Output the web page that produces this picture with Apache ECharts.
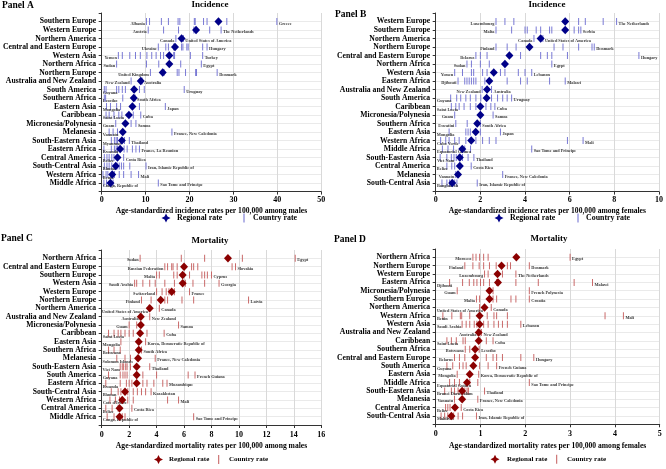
<!DOCTYPE html>
<html><head><meta charset="utf-8">
<script src="https://cdn.jsdelivr.net/npm/echarts@6/dist/echarts.min.js"></script>
<style>html,body{margin:0;padding:0;background:#fff}#c{width:666px;height:469px}</style>
</head><body><div id="c"></div>
<script>
// ---------------- Panel A : Incidence, males ----------------
const regionsA = ['Southern Europe','Western Europe','Northern America','Central and Eastern Europe','Western Asia','Northern Africa','Northern Europe','Australia and New Zealand','South America','Southern Africa','Eastern Asia','Caribbean','Micronesia/Polynesia','Melanesia','South-Eastern Asia','Eastern Africa','Central America','South-Central Asia','Western Africa','Middle Africa'];
const regionalA = [26.6, 21.5, 18.2, 16.7, 15.4, 15.4, 13.9, 8.9, 7.4, 7.3, 7.0, 6.2, 5.4, 4.8, 4.6, 4.2, 3.6, 3.2, 2.4, 2.0];
const countriesA = [
  [10.2, 10.9, 13.6, 15.2, 17.4, 17.8, 21.1, 21.3, 23.2, 24.0, 28.5, 39.9],
  [10.6, 14.1, 17.5, 21.0, 24.6, 27.2],
  [16.9, 18.6],
  [12.9, 14.6, 15.2, 16.4, 18.2, 18.5, 19.4, 19.7, 23.0, 24.0],
  [3.8, 4.7, 6.4, 7.7, 8.8, 10.3, 11.4, 12.4, 13.4, 14.1, 16.4, 16.6, 20.2, 23.0],
  [3.4, 10.2, 13.0, 18.0, 22.7],
  [11.1, 14.2, 17.2, 17.6, 19.1, 21.4, 21.6, 26.3],
  [6.7, 9.2],
  [0.6, 1.0, 3.4, 3.9, 4.7, 5.4, 7.2, 8.6, 9.7, 18.8],
  [0.6, 0.9, 4.8, 7.6],
  [1.1, 2.0, 3.4, 4.3, 8.6, 14.5],
  [1.0, 1.7, 2.8, 3.9, 4.6, 7.2, 8.9],
  [3.2, 6.7, 7.8],
  [1.7, 2.6, 3.6, 16.0],
  [2.2, 2.9, 3.3, 3.6, 5.2, 6.3],
  [0.5, 2.2, 2.9, 3.3, 3.6, 5.1, 5.8, 7.0, 7.8, 8.6],
  [0.6, 1.2, 1.7, 2.3, 2.8, 5.0],
  [0.6, 1.2, 1.7, 2.3, 3.5, 4.0, 4.5, 5.0, 6.4, 10.1],
  [0.3, 1.0, 1.4, 2.9, 4.0, 5.0, 6.7, 8.4],
  [0.5, 1.1, 2.6, 12.9]
];
const lowA = ['Albania','Austria','Canada','Ukraine','Yemen','Sudan','United Kingdom','New Zealand','Guyana','Lesotho','Mongolia','Saint Lucia','Guam','Vanuatu','Myanmar','Rwanda','Belize','Bhutan','Benin','Congo, Republic of'];
const highA = ['Greece','The Netherlands','United States of America','Hungary','Turkey','Egypt','Denmark','Australia','Uruguay','South Africa','Japan','Cuba','Samoa','France, New Caledonia','Thailand','France, La Reunion','Costa Rica','Iran, Islamic Republic of','Mali','Sao Tome and Principe'];

// ---------------- Panel B : Incidence, females ----------------
const regionsB = ['Western Europe','Southern Europe','Northern America','Northern Europe','Central and Eastern Europe','Northern Africa','Western Asia','Eastern Africa','Australia and New Zealand','South America','Caribbean','Micronesia/Polynesia','Southern Africa','Eastern Asia','Western Africa','Middle Africa','South-Eastern Asia','Central America','Melanesia','South-Central Asia'];
const regionalB = [5.8, 5.8, 4.7, 4.2, 3.3, 3.1, 2.6, 2.4, 2.3, 2.28, 2.0, 2.0, 1.86, 1.79, 1.59, 1.19, 1.08, 1.08, 1.0, 0.74];
const countriesB = [
  [2.7, 3.1, 3.5, 6.4, 6.7, 7.5, 8.1],
  [2.7, 3.4, 4.0, 4.1, 4.5, 4.7, 5.1, 5.2, 6.2, 6.4, 6.5],
  [4.4, 4.8],
  [2.7, 3.2, 3.6, 5.3, 5.7, 6.4, 7.0, 7.1],
  [1.8, 2.0, 2.3, 3.8, 4.7, 5.0, 5.2, 5.9, 9.1],
  [1.4, 1.6, 2.0, 2.4, 5.2],
  [0.85, 1.2, 1.6, 1.7, 2.1, 2.3, 2.9, 3.1, 3.7, 4.0, 4.3],
  [1.0, 1.3, 1.4, 1.5, 1.6, 1.7, 1.8, 2.2, 3.2, 3.8, 4.1, 5.1, 5.8],
  [2.08, 2.5],
  [0.67, 0.94, 1.12, 1.35, 1.55, 1.8, 2.02, 2.5, 2.77, 3.0, 3.2, 3.4],
  [0.7, 0.9, 1.05, 1.27, 1.55, 1.8, 2.25, 2.47, 2.65],
  [0.85, 2.57],
  [0.9, 1.41, 2.0],
  [0.6, 1.35, 1.45, 1.55, 2.0, 2.9],
  [0.22, 0.45, 0.6, 0.85, 1.05, 1.35, 1.8, 2.1, 2.4, 2.7, 5.9, 6.6],
  [0.3, 0.55, 0.8, 1.3, 1.56, 4.3],
  [0.2, 0.5, 0.7, 0.82, 0.92, 1.05, 1.2, 1.45, 1.71],
  [0.5, 0.72, 0.85, 1.59],
  [0.9, 3.0],
  [0.28, 0.5, 0.62, 0.85, 0.95, 1.86]
];
const lowB = ['Luxembourg','Malta','Canada','Finland','Belarus','Sudan','Yemen','Djibouti','New Zealand','Guyana','Saint Lucia','Guam','Eswatini','Mongolia','Cabo Verde','Equatorial Guinea','Viet Nam','Belize','Vanuatu','Bangladesh'];
const highB = ['The Netherlands','Serbia','United States of America','Denmark','Hungary','Egypt','Lebanon','Malawi','Australia','Uruguay','Cuba','Samoa','South Africa','Japan','Mali','Sao Tome and Principe','Thailand','Costa Rica','France, New Caledonia','Iran, Islamic Republic of'];

// ---------------- Panel C : Mortality, males ----------------
const regionsC = ['Northern Africa','Central and Eastern Europe','Southern Europe','Western Asia','Western Europe','Northern Europe','Northern America','Australia and New Zealand','Micronesia/Polynesia','Caribbean','Eastern Asia','Southern Africa','Melanesia','South-Eastern Asia','South America','Eastern Africa','South-Central Asia','Western Africa','Central America','Middle Africa'];
const regionalC = [9.2, 6.0, 5.9, 5.9, 5.1, 4.3, 3.5, 2.85, 2.85, 2.8, 2.7, 2.7, 2.65, 2.55, 2.55, 2.55, 1.7, 1.5, 1.3, 1.3];
const countriesC = [
  [2.8, 5.8, 7.5, 10.25, 14.1],
  [4.6, 4.8, 5.1, 5.2, 5.5, 6.55, 6.7, 7.0, 9.5, 9.75],
  [4.0, 4.2, 5.25, 5.5, 6.4, 7.3, 7.5, 7.7, 8.0],
  [2.4, 2.55, 3.0, 3.5, 3.9, 4.6, 5.3, 6.1, 6.65, 7.5, 8.55],
  [4.0, 4.4, 4.7, 4.9, 5.3, 6.4],
  [2.9, 3.6, 4.6, 4.8, 5.85, 6.7, 10.7],
  [3.45, 4.2],
  [2.8, 3.5],
  [2.0, 2.55, 5.6],
  [0.5, 0.9, 1.2, 1.4, 1.7, 2.0, 2.3, 3.3, 4.55],
  [1.4, 3.2],
  [0.5, 0.9, 1.35, 2.9],
  [1.1, 1.7, 2.1, 3.9],
  [1.35, 1.5, 1.6, 1.75, 1.85, 2.1, 3.5],
  [0.5, 1.35, 1.55, 1.7, 1.85, 3.0, 4.0, 6.3, 6.8],
  [0.3, 1.35, 1.8, 2.0, 2.2, 3.0, 3.3, 3.8, 4.45, 4.76],
  [0.7, 1.2, 1.4, 1.9, 2.3, 2.6, 2.9, 3.2, 3.6],
  [0.6, 1.0, 1.3, 1.9, 2.3, 4.8, 5.6],
  [0.3, 0.76, 1.2, 2.2],
  [0.4, 0.9, 1.5, 1.7, 6.7]
];
const lowC = ['Sudan','Russian Federation','Malta','Saudi Arabia','Switzerland','Finland','United States of America','Australia','Guam','Saint Lucia','Mongolia','Botswana','Solomon Islands','Viet Nam','Guyana','Rwanda','Bhutan',"Cote d'Ivoire",'Belize','Congo, Republic of'];
const highC = ['Egypt','Slovakia','Cyprus','Georgia','France','Latvia','Canada','New Zealand','Samoa','Cuba','Korea, Democratic Republic of','South Africa','France, New Caledonia','Thailand','French Guiana','Mozambique','Kazakhstan','Mali','Costa Rica','Sao Tome and Principe'];

// ---------------- Panel D : Mortality, females ----------------
const regionsD = ['Northern Africa','Northern Europe','Western Europe','Eastern Africa','Micronesia/Polynesia','Southern Europe','Northern America','Western Africa','Western Asia','Australia and New Zealand','Caribbean','Southern Africa','Central and Eastern Europe','South America','Eastern Asia','Middle Africa','South-Eastern Asia','Melanesia','Central America','South-Central Asia'];
const regionalD = [1.8, 1.47, 1.38, 1.39, 1.2, 1.2, 1.09, 0.98, 0.98, 0.96, 0.96, 0.88, 0.88, 0.84, 0.76, 0.7, 0.59, 0.59, 0.43, 0.35];
const countriesD = [
  [0.83, 0.9, 0.98, 1.07, 1.17, 3.0],
  [0.65, 0.83, 0.97, 1.07, 1.2, 1.35, 1.6, 1.67, 2.09],
  [1.09, 1.17, 1.49, 1.79],
  [0.31, 0.6, 0.75, 0.85, 0.92, 1.0, 1.07, 1.2, 1.36, 1.79, 2.29, 3.09, 3.5],
  [0.48, 1.28, 2.09],
  [0.91, 0.98, 1.28, 1.36, 1.68, 1.79, 2.09],
  [0.98, 1.24],
  [0.16, 0.36, 0.55, 0.58, 0.76, 1.15, 1.3, 1.36, 1.6, 3.78, 4.19],
  [0.59, 0.68, 0.76, 0.86, 0.92, 1.07, 1.17, 1.3, 1.4, 1.49, 1.6, 1.9],
  [0.94, 1.02],
  [0.25, 0.35, 0.46, 0.61, 0.66, 1.13, 1.28],
  [0.66, 0.76, 0.97],
  [0.42, 0.53, 0.65, 1.13, 1.28, 1.36, 1.49, 1.9, 2.19],
  [0.25, 0.38, 0.53, 0.61, 0.68, 0.98, 1.17, 1.36],
  [0.48, 0.96],
  [0.31, 0.42, 0.53, 0.76, 0.94, 2.09],
  [0.2, 0.35, 0.42, 0.5, 0.65, 0.7, 0.73, 1.09],
  [0.42, 0.94],
  [0.22, 0.27, 0.32, 0.57],
  [0.12, 0.2, 0.27, 0.4, 0.5, 0.6, 0.91]
];
const lowD = ['Morocco','Finland','Luxembourg','Djibouti','Guam','Malta','United States of America','Benin','Saudi Arabia','Australia','Saint Lucia','Botswana','Belarus','Guyana','Mongolia','Equatorial Guinea','Brunei Darussalam','Vanuatu','Belize','Maldives'];
const highD = ['Egypt','Denmark','The Netherlands','Malawi','French Polynesia','Croatia','Canada','Mali','Lebanon','New Zealand','Cuba','Lesotho','Hungary','French Guiana','Korea, Democratic Republic of','Sao Tome and Principe','Thailand','France, New Caledonia','Costa Rica','Iran, Islamic Republic of'];

const legendLabels = ['Regional rate', 'Country rate'];

// ---------------- layout / styling ----------------
const FONT = "'Liberation Serif','Times New Roman',serif";
const BLUE = {mark:'#000088', tick:'#6b6bd0'};
const RED = {mark:'#8b0000', tick:'#c45a5a'};
const MARK_POLY = [[4.5,0],[6,3],[9,4.5],[6,6],[4.5,9],[3,6],[0,4.5],[3,3]];

const panels = [
  {regions:regionsA, regional:regionalA, countries:countriesA, low:lowA, high:highA, col:BLUE,
   left:97.7, top:13, width:223.5, height:178.6, max:50, interval:10, labelMargin:4.5, nameGap:15.5,
   axisName:'Age-standardized incidence rates per 100,000 among males',
   panelTitle:'Panel A', px:2, py:6, sub:'Incidence', sx:210, sy:5,
   lg:{y:218, d:166, t1:177, bar:244, t2:253, fs:7.9}},
  {regions:regionsB, regional:regionalB, countries:countriesB, low:lowB, high:highB, col:BLUE,
   left:435.7, top:13, width:224, height:178.6, max:10, interval:2, labelMargin:4.5, nameGap:15.5,
   axisName:'Age-standardized incidence rates per 100,000 among females',
   panelTitle:'Panel B', px:335, py:15, sub:'Incidence', sx:547, sy:5,
   lg:{y:218, d:499, t1:510, bar:578, t2:586, fs:7.9}},
  {regions:regionsC, regional:regionalC, countries:countriesC, low:lowC, high:highC, col:RED,
   left:97.7, top:250, width:223.6, height:175, max:16, interval:2, labelMargin:6, nameGap:17,
   axisName:'Age-standardized mortality rates per 100,000 among males',
   panelTitle:'Panel C', px:1, py:239, sub:'Mortality', sx:210, sy:240.3,
   lg:{y:459.5, d:158.5, t1:169, bar:218.7, t2:229, fs:7}},
  {regions:regionsD, regional:regionalD, countries:countriesD, low:lowD, high:highD, col:RED,
   left:435.7, top:249, width:224, height:175.3, max:5, interval:1, labelMargin:6, nameGap:17.5,
   axisName:'Age-standardized mortality rates per 100,000 among females',
   panelTitle:'Panel D', px:334, py:239.3, sub:'Mortality', sx:549, sy:239,
   lg:{y:459.3, d:495, t1:507, bar:556.7, t2:567, fs:7}}
];

const grid = [], xAxis = [], yAxis = [], series = [], graphic = [];
const splitColors = ['rgba(0,0,0,0)'];
for (let k = 0; k < 20; k++) splitColors.push('#e4e4e4');
splitColors.push('rgba(0,0,0,0)');

const LBL_FS = 4.3;
const labelStyle = {fontFamily: FONT, fontSize: LBL_FS, fontWeight: 'bold', color: '#222'};

panels.forEach((p, i) => {
  grid.push({left: p.left, top: p.top, width: p.width, height: p.height, containLabel: false});
  xAxis.push({
    gridIndex: i, type: 'value', min: 0, max: p.max, interval: p.interval,
    axisLine: {show: true, onZero: false, lineStyle: {color: '#333', width: 1}},
    axisTick: {show: true, length: 3, lineStyle: {color: '#333'}},
    axisLabel: {fontFamily: FONT, fontWeight: 'bold', fontSize: 8, color: '#000', margin: p.labelMargin},
    splitLine: {show: true, lineStyle: {color: '#d9d9d9', width: 1}},
    name: p.axisName, nameLocation: 'middle', nameGap: p.nameGap,
    nameTextStyle: {fontFamily: FONT, fontWeight: 'bold', fontSize: 7.6, color: '#000'}
  });
  const regs = p.regions;
  yAxis.push({
    gridIndex: i, type: 'value', inverse: true, min: -1, max: 20, interval: 1,
    axisLine: {show: true, onZero: false, lineStyle: {color: '#333', width: 1}},
    axisTick: {show: true, length: 3, lineStyle: {color: '#333'}},
    axisLabel: {fontFamily: FONT, fontWeight: 'bold', fontSize: 7.7, color: '#000', margin: 5.5,
      formatter: v => (v >= 0 && v < regs.length) ? regs[v] : ''},
    splitLine: {show: true, lineStyle: {color: splitColors, width: 0.8}}
  });

  const pxPer = p.width / p.max;
  const tickData = [];
  p.countries.forEach((vals, r) => {
    vals.forEach((v, j) => {
      const item = {value: [v, r]};
      if (j === 0 && p.low[r]) {
        const name = p.low[r];
        const off = v * pxPer;
        const tw = name.length * LBL_FS * 0.5;
        item.name = name;
        if (off > tw + 2.5) {
          item.label = Object.assign({show: true, position: 'left', distance: 1, offset: [0, 2], formatter: '{b}'}, labelStyle);
        } else {
          item.label = Object.assign({show: true, position: 'bottom', align: 'left', distance: 0, offset: [-off + 1.2, -2.3], formatter: '{b}'}, labelStyle);
        }
      } else if (j === vals.length - 1 && p.high[r]) {
        item.name = p.high[r];
        item.label = Object.assign({show: true, position: 'right', distance: 1.5, offset: [0, 2], formatter: '{b}'}, labelStyle);
      }
      tickData.push(item);
    });
  });
  series.push({
    name: legendLabels[1], type: 'scatter', xAxisIndex: i, yAxisIndex: i,
    symbol: 'rect', symbolSize: [1, 7], itemStyle: {color: p.col.tick, opacity: 0.9},
    data: tickData, z: 3, silent: true
  });
  series.push({
    name: legendLabels[0], type: 'scatter', xAxisIndex: i, yAxisIndex: i,
    symbol: 'diamond', symbolSize: [8, 8.5], itemStyle: {color: p.col.mark, opacity: 1},
    data: p.regional.map((v, r) => [v, r]), z: 5, silent: true
  });

  // titles
  graphic.push({type: 'text', x: p.px, y: p.py, style: {text: p.panelTitle, fontFamily: FONT, fontWeight: 'bold', fontSize: 9.5, fill: '#000', align: 'left', verticalAlign: 'middle'}});
  graphic.push({type: 'text', x: p.sx, y: p.sy, style: {text: p.sub, fontFamily: FONT, fontWeight: 'bold', fontSize: 9, fill: '#000', align: 'center', verticalAlign: 'middle'}});
  // legend
  const lg = p.lg;
  graphic.push({type: 'polygon', shape: {points: MARK_POLY.map(q => [lg.d - 4.5 + q[0], lg.y - 4.5 + q[1]])}, style: {fill: p.col.mark}});
  graphic.push({type: 'text', x: lg.t1, y: lg.y, style: {text: legendLabels[0], fontFamily: FONT, fontWeight: 'bold', fontSize: lg.fs, fill: '#000', align: 'left', verticalAlign: 'middle'}});
  graphic.push({type: 'rect', shape: {x: lg.bar - 0.5, y: lg.y - 4.5, width: 1, height: 9}, style: {fill: p.col.tick}});
  graphic.push({type: 'text', x: lg.t2, y: lg.y, style: {text: legendLabels[1], fontFamily: FONT, fontWeight: 'bold', fontSize: lg.fs, fill: '#000', align: 'left', verticalAlign: 'middle'}});
});

const chart = echarts.init(document.getElementById('c'), null, {renderer: 'canvas'});
chart.setOption({
  animation: false,
  backgroundColor: '#fff',
  grid, xAxis, yAxis, series, graphic
});
</script></body></html>
